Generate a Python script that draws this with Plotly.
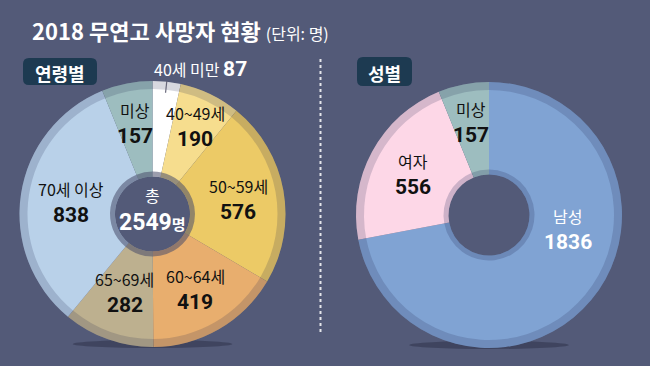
import math
import plotly.graph_objects as go

# ---------------- data ----------------
age_labels = ["40세 미만", "40~49세", "50~59세", "60~64세", "65~69세", "70세 이상", "미상"]
age_values = [87, 190, 576, 419, 282, 838, 157]

sex_labels = ["남성", "여자", "미상"]
sex_values = [1836, 556, 157]

title_text = "2018 무연고 사망자 현황"
unit_text = "(단위: 명)"
age_group_title = "연령별"
sex_group_title = "성별"

# ---------------- styles / layout ----------------
W, H = 650, 366
BG = "#535a78"
KR = "Noto Sans CJK KR"
NUMF = "Liberation Sans Narrow, Roboto, sans-serif"
NUMS = 21

age_colors = ["#ffffff", "#f6dd8e", "#ecca66", "#e8ae6e", "#bdb08f", "#b9d1e9", "#9dbdbf"]
age_text_colors = ["#ffffff", "#111111", "#111111", "#111111", "#111111", "#111111", "#111111"]
sex_colors = ["#80a3d3", "#fdd7e7", "#9dbdbf"]
sex_text_colors = ["#ffffff", "#111111", "#111111"]

LC, LR, L_HOLE, L_RING = (152.5, 214.0), 133.0, 37.5, 42.5
RC, RR, R_HOLE, R_RING = (489.0, 215.0), 133.0, 40.5, 45.5
RIM = 8.0

age_label_r = [None, 98, 87, 86, 83, 82, 93]
sex_label_r = [80, 86, 95]
sex_label_angle_override = [100, None, None]


def px(x, y):
    return x / W, 1 - y / H


def dom(c, r):
    return dict(x=[(c[0] - r) / W, (c[0] + r) / W], y=[1 - (c[1] + r) / H, 1 - (c[1] - r) / H])


def mid_angles(values):
    tot = float(sum(values))
    out, cum = [], 0.0
    for v in values:
        out.append((cum + v / 2.0) / tot * 360.0)
        cum += v
    return out


def polar(c, r, ang_deg):
    a = math.radians(ang_deg)
    return c[0] + r * math.sin(a), c[1] - r * math.cos(a)


def num(val, size=NUMS):
    return f"<b><span style='font-family:{NUMF};font-size:{size}px'>{val}</span></b>"


fig = go.Figure()


def add_donut(values, labels, colors, c, r, hole, ring, rim_col, ring_col):
    common = dict(values=values, sort=False, direction="clockwise", rotation=0,
                  textinfo="none", hoverinfo="skip", showlegend=False)
    fig.add_trace(go.Pie(labels=labels, marker=dict(colors=colors, line=dict(width=0)),
                         hole=hole / r, domain=dom(c, r), **common))
    fig.add_trace(go.Pie(labels=[l + " rim" for l in labels],
                         marker=dict(colors=[rim_col] * len(values), line=dict(width=0)),
                         hole=(r - RIM) / r, domain=dom(c, r), **common))
    fig.add_trace(go.Pie(labels=[l + " ring" for l in labels],
                         marker=dict(colors=[ring_col] * len(values), line=dict(width=0)),
                         hole=hole / ring, domain=dom(c, ring), **common))


add_donut(age_values, age_labels, age_colors, LC, LR, L_HOLE, L_RING,
          "rgba(35,40,75,0.18)", "rgba(72,76,105,0.55)")
add_donut(sex_values, ["성별 " + s for s in sex_labels], sex_colors, RC, RR, R_HOLE, R_RING,
          "rgba(35,40,75,0.18)", "rgba(35,45,90,0.22)")

shapes = []
annotations = []

# shadows under donuts
for c, r in [(LC, LR), (RC, RR)]:
    x0, y0 = px(c[0] - r * 0.6, c[1] + r - 7)
    x1, y1 = px(c[0] + r * 0.6, c[1] + r + 1)
    shapes.append(dict(type="circle", xref="paper", yref="paper", x0=x0, y0=y0, x1=x1, y1=y1,
                       fillcolor="rgba(25,28,50,0.35)", line=dict(width=0), layer="below"))

# separator
sx0, sy0 = px(320.5, 59)
sx1, sy1 = px(320.5, 335)
shapes.append(dict(type="line", xref="paper", yref="paper", x0=sx0, y0=sy0, x1=sx1, y1=sy1,
                   line=dict(color="rgba(255,255,255,0.85)", width=2, dash="dot")))


def rrect(x0, y0, x1, y1, rad):
    rx, ry = rad / W, rad / H
    X0, Y0 = px(x0, y0)
    X1, Y1 = px(x1, y1)
    return (f"M {X0+rx},{Y0} L {X1-rx},{Y0} Q {X1},{Y0} {X1},{Y0-ry} "
            f"L {X1},{Y1+ry} Q {X1},{Y1} {X1-rx},{Y1} L {X0+rx},{Y1} "
            f"Q {X0},{Y1} {X0},{Y1+ry} L {X0},{Y0-ry} Q {X0},{Y0} {X0+rx},{Y0} Z")


for (bx0, by0, bx1, by1, txt) in [(23, 58, 97, 85, age_group_title), (357, 57, 412, 86, sex_group_title)]:
    shapes.append(dict(type="path", xref="paper", yref="paper", path=rrect(bx0, by0, bx1, by1, 6),
                       fillcolor="#1d3a51", line=dict(width=0)))
    tx, ty = px((bx0 + bx1) / 2, (by0 + by1) / 2 + 1)
    annotations.append(dict(x=tx, y=ty, xref="paper", yref="paper", showarrow=False,
                            text=f"<b>{txt}</b>", font=dict(family=KR, size=18, color="white"),
                            xanchor="center", yanchor="middle"))

# title
tx, ty = px(30, 30)
annotations.append(dict(x=tx, y=ty, xref="paper", yref="paper", showarrow=False, xanchor="left",
                        yanchor="middle",
                        text=f"<b>{title_text}</b> <span style='font-size:16px'>{unit_text}</span>",
                        font=dict(family=KR, size=22, color="white")))


def two_line(x, y, name, val, color, name_size=16, val_size=NUMS):
    lx, ly = px(x, y)
    annotations.append(dict(x=lx, y=ly, xref="paper", yref="paper", showarrow=False,
                            xanchor="center", yanchor="bottom", text=name, borderpad=0,
                            font=dict(family=KR, size=name_size, color=color)))
    annotations.append(dict(x=lx, y=ly, xref="paper", yref="paper", showarrow=False,
                            xanchor="center", yanchor="top", text=f"<b>{val}</b>", borderpad=0,
                            font=dict(family=NUMF, size=val_size, color=color)))


# age labels
ang = mid_angles(age_values)
for i, (name, val) in enumerate(zip(age_labels, age_values)):
    if age_label_r[i] is None:
        ax0, ay0 = polar(LC, LR - 11, ang[i])
        ax1, ay1 = polar(LC, LR + 1, ang[i])
        p0 = px(ax0, ay0)
        p1 = px(ax1, ay1)
        shapes.append(dict(type="line", xref="paper", yref="paper", x0=p0[0], y0=p0[1], x1=p1[0], y1=p1[1],
                           line=dict(color="rgba(90,90,110,0.9)", width=1.2)))
        lx, ly = px(ax1 + 34, ay1 - 12)
        annotations.append(dict(x=lx, y=ly, xref="paper", yref="paper", showarrow=False,
                                xanchor="center", yanchor="middle",
                                text=f"{name} {num(val)}",
                                font=dict(family=KR, size=16, color=age_text_colors[i])))
        continue
    x, y = polar(LC, age_label_r[i], ang[i])
    two_line(x, y, name, val, age_text_colors[i])

# center total
total = sum(age_values)
lx, ly = px(LC[0], LC[1] - 6)
annotations.append(dict(x=lx, y=ly, xref="paper", yref="paper", showarrow=False,
                        xanchor="center", yanchor="bottom", text="총", borderpad=0,
                        font=dict(family=KR, size=16, color="white")))
annotations.append(dict(x=lx, y=ly, xref="paper", yref="paper", showarrow=False,
                        xanchor="center", yanchor="top", borderpad=0,
                        text=(f"<b>{total}<span style='font-family:{KR};font-size:15px'>명</span></b>"),
                        font=dict(family=NUMF, size=23, color="white")))

# sex labels
ang = mid_angles(sex_values)
for i, (name, val) in enumerate(zip(sex_labels, sex_values)):
    a = sex_label_angle_override[i] if sex_label_angle_override[i] is not None else ang[i]
    x, y = polar(RC, sex_label_r[i], a)
    two_line(x, y, name, val, sex_text_colors[i])

fig.update_layout(
    width=W, height=H,
    margin=dict(l=0, r=0, t=0, b=0),
    paper_bgcolor=BG, plot_bgcolor=BG,
    shapes=shapes, annotations=annotations,
    showlegend=False,
)

fig.write_html("out.html", config={"displayModeBar": False},
               post_script="document.body.style.margin='0';document.body.style.padding='0';"
                           "document.body.style.background='" + BG + "';")
